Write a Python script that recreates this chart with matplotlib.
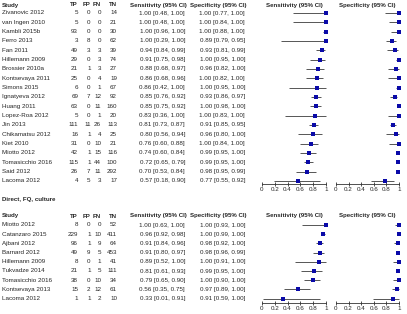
import matplotlib
matplotlib.use('Agg')
import matplotlib.pyplot as plt

plt.rcParams['font.family'] = ['Liberation Sans', 'DejaVu Sans']

# ---------------- data ----------------
studies_a = ["Zivanovic 2012", "van Ingen 2010", "Kambli 2015b", "Ferro 2013", "Fan 2011",
             "Hillemann 2009", "Brossier 2010a", "Kontsevaya 2011", "Simons 2015",
             "Ignatyeva 2012", "Huang 2011", "Lopez-Roa 2012", "Jin 2013",
             "Chikamatsu 2012", "Kiet 2010", "Miotto 2012", "Tomasicchio 2016",
             "Said 2012", "Lacoma 2012"]
tp_a = [5, 5, 93, 3, 49, 29, 21, 25, 6, 69, 63, 5, 111, 16, 31, 42, 115, 26, 4]
fp_a = [0, 0, 0, 8, 3, 0, 1, 0, 0, 7, 0, 0, 11, 1, 0, 1, 1, 7, 5]
fn_a = [0, 0, 0, 0, 3, 3, 3, 4, 1, 12, 11, 1, 26, 4, 10, 15, 44, 11, 3]
tn_a = [14, 21, 30, 62, 39, 74, 27, 19, 67, 92, 160, 20, 113, 25, 21, 116, 100, 292, 17]
sens_a = [1.00, 1.00, 1.00, 1.00, 0.94, 0.91, 0.88, 0.86, 0.86, 0.85, 0.85, 0.83, 0.81, 0.80, 0.76, 0.74, 0.72, 0.70, 0.57]
sens_lo_a = [0.48, 0.48, 0.96, 0.29, 0.84, 0.75, 0.68, 0.68, 0.42, 0.76, 0.75, 0.36, 0.73, 0.56, 0.60, 0.60, 0.65, 0.53, 0.18]
sens_hi_a = [1.00, 1.00, 1.00, 1.00, 0.99, 0.98, 0.97, 0.96, 1.00, 0.92, 0.92, 1.00, 0.87, 0.94, 0.88, 0.84, 0.79, 0.84, 0.90]
spec_a = [1.00, 1.00, 1.00, 0.89, 0.93, 1.00, 0.96, 1.00, 1.00, 0.93, 1.00, 1.00, 0.91, 0.96, 1.00, 0.99, 0.99, 0.98, 0.77]
spec_lo_a = [0.77, 0.84, 0.88, 0.79, 0.81, 0.95, 0.82, 0.82, 0.95, 0.86, 0.98, 0.83, 0.85, 0.80, 0.84, 0.95, 0.95, 0.95, 0.55]
spec_hi_a = [1.00, 1.00, 1.00, 0.95, 0.99, 1.00, 1.00, 1.00, 1.00, 0.97, 1.00, 1.00, 0.95, 1.00, 1.00, 1.00, 1.00, 0.99, 0.92]

group_b = "Direct, FQ, culture"
studies_b = ["Miotto 2012", "Catanzaro 2015", "Ajbani 2012", "Barnard 2012", "Hillemann 2009",
             "Tukvadze 2014", "Tomasicchio 2016", "Kontsevaya 2013", "Lacoma 2012"]
tp_b = [8, 229, 96, 49, 8, 21, 38, 15, 1]
fp_b = [0, 1, 1, 9, 0, 1, 0, 2, 1]
fn_b = [0, 10, 9, 5, 1, 5, 10, 12, 2]
tn_b = [52, 411, 64, 453, 41, 111, 34, 61, 10]
sens_b = [1.00, 0.96, 0.91, 0.91, 0.89, 0.81, 0.79, 0.56, 0.33]
sens_lo_b = [0.63, 0.92, 0.84, 0.80, 0.52, 0.61, 0.65, 0.35, 0.01]
sens_hi_b = [1.00, 0.98, 0.96, 0.97, 1.00, 0.93, 0.90, 0.75, 0.91]
spec_b = [1.00, 1.00, 0.98, 0.98, 1.00, 0.99, 1.00, 0.97, 0.91]
spec_lo_b = [0.93, 0.99, 0.92, 0.96, 0.91, 0.95, 0.90, 0.89, 0.59]
spec_hi_b = [1.00, 1.00, 1.00, 0.99, 1.00, 1.00, 1.00, 1.00, 1.00]

ticks = [0, 0.2, 0.4, 0.6, 0.8, 1]
tick_labels = ["0", "0.2", "0.4", "0.6", "0.8", "1"]

# ---------------- layout ----------------
W, H = 407, 314
fig = plt.figure(figsize=(W / 100, H / 100), dpi=100)
bg = fig.add_axes([0, 0, 1, 1])
bg.set_xlim(0, W)
bg.set_ylim(H, 0)
bg.axis('off')

FS = 4.5
FSB = 4.4
TXT = '#262626'
MARK = '#0a0aa8'
LINE = '#555555'
SENS_X = (262, 326)
SPEC_X = (336, 399)
COLS = [(78, "TP"), (90.5, "FP"), (101, "FN"), (117, "TN")]


def ci_text(v, lo, hi):
    return f"{v:.2f} [{lo:.2f}, {hi:.2f}]"


def panel(y_head, y0, dy, y_axis, studies, tp, fp, fn, tn,
          se, se_lo, se_hi, sp, sp_lo, sp_hi):
    kw = dict(fontsize=FS, color=TXT, va='center')
    bkw = dict(fontsize=FSB, color=TXT, va='center', fontweight='bold')
    bg.text(2, y_head, "Study", ha='left', **bkw)
    for x, lab in COLS:
        bg.text(x, y_head, lab, ha='right', **bkw)
    bg.text(130, y_head, "Sensitivity (95% CI)", ha='left', **bkw)
    bg.text(190, y_head, "Specificity (95% CI)", ha='left', **bkw)
    bg.text(sum(SENS_X) / 2, y_head, "Sensitivity (95% CI)", ha='center', **bkw)
    bg.text(sum(SPEC_X) / 2, y_head, "Specificity (95% CI)", ha='center', **bkw)
    n = len(studies)
    ys = [y0 + dy * i for i in range(n)]
    for i in range(n):
        y = ys[i]
        bg.text(2, y, studies[i], ha='left', **kw)
        for (x, _), col in zip(COLS, (tp, fp, fn, tn)):
            bg.text(x, y, str(col[i]), ha='right', **kw)
        bg.text(185, y, ci_text(se[i], se_lo[i], se_hi[i]), ha='right', **kw)
        bg.text(245, y, ci_text(sp[i], sp_lo[i], sp_hi[i]), ha='right', **kw)

    for (x0, x1), v, lo, hi in [(SENS_X, se, se_lo, se_hi), (SPEC_X, sp, sp_lo, sp_hi)]:
        ax = fig.add_axes([x0 / W, 1 - y_axis / H, (x1 - x0) / W, (y_axis - y_head) / H])
        ax.set_xlim(0, 1)
        ax.set_ylim(y_axis, y_head)
        ax.patch.set_alpha(0)
        for s in ['top', 'right', 'left']:
            ax.spines[s].set_visible(False)
        ax.spines['bottom'].set_linewidth(0.6)
        ax.spines['bottom'].set_color('#333333')
        ax.set_yticks([])
        ax.set_xticks(ticks)
        ax.set_xticklabels(tick_labels)
        ax.tick_params(axis='x', direction='inout', length=3, width=0.6, pad=0.8,
                       labelsize=FS, colors='#333333', labelcolor=TXT)
        ax.hlines(ys, lo, hi, color=LINE, lw=0.7, clip_on=False)
        ax.plot(v, ys, 's', color=MARK, ms=3.0, mew=0, clip_on=False)


panel(5, 13, 9.33, 184, studies_a, tp_a, fp_a, fn_a, tn_a,
      sens_a, sens_lo_a, sens_hi_a, spec_a, spec_lo_a, spec_hi_a)
bg.text(2, 200, group_b, ha='left', va='center', fontsize=FSB, color=TXT, fontweight='bold')
panel(216, 225, 9.2, 303, studies_b, tp_b, fp_b, fn_b, tn_b,
      sens_b, sens_lo_b, sens_hi_b, spec_b, spec_lo_b, spec_hi_b)

fig.savefig('out.png', dpi=100)
